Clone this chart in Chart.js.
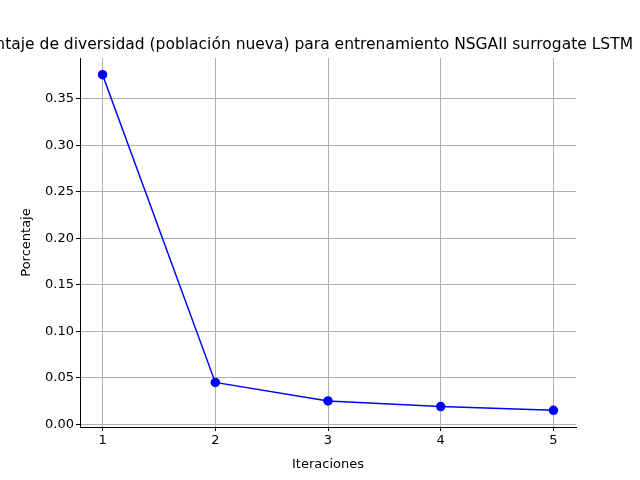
<!DOCTYPE html>
<html><head>
<script src="https://cdn.jsdelivr.net/npm/chart.js@4"></script>
<style>body{margin:0}canvas{display:block}</style>
</head><body>
<div style="width:640px;height:480px"><canvas id="c"></canvas></div>
<script>
const iteraciones = [1, 2, 3, 4, 5];
const porcentaje = [0.376, 0.045, 0.025, 0.019, 0.015];
const yTicks = [0, 0.05, 0.10, 0.15, 0.20, 0.25, 0.30, 0.35];
const titleText = 'Porcentaje de diversidad (población nueva) para entrenamiento NSGAII surrogate LSTM';

const titlePlugin = {
    id: 'mplTitle',
    afterDraw(chart) {
        const ctx = chart.ctx, a = chart.chartArea;
        ctx.save();
        ctx.font = '15.5px "DejaVu Sans"';
        ctx.fillStyle = '#000';
        ctx.textAlign = 'right';
        ctx.textBaseline = 'alphabetic';
        ctx.fillText(titleText, 633, a.top - 9);
        ctx.restore();
    }
};

Chart.defaults.font.family = '"DejaVu Sans"';
Chart.defaults.font.size = 13;
Chart.defaults.color = '#000';

new Chart(document.getElementById('c'), {
    type: 'line',
    data: {
        datasets: [{
            data: iteraciones.map((x, i) => ({x: x, y: porcentaje[i]})),
            borderColor: '#0000ff',
            backgroundColor: '#0000ff',
            borderWidth: 1.5,
            pointRadius: 4,
            pointHoverRadius: 4,
            tension: 0
        }]
    },
    options: {
        responsive: true,
        maintainAspectRatio: false,
        animation: false,
        layout: {padding: {top: 58, right: 64, left: 15, bottom: 0}},
        plugins: {legend: {display: false}, tooltip: {enabled: false}},
        scales: {
            x: {
                type: 'linear', min: 0.8, max: 5.2,
                afterBuildTicks: s => { s.ticks = iteraciones.map(v => ({value: v})); },
                afterFit: s => { s.height = 53; },
                ticks: {callback: v => v, padding: 2},
                grid: {color: '#b0b0b0', tickColor: '#000', tickLength: 4},
                border: {color: '#000'},
                title: {display: true, text: 'Iteraciones', padding: {top: 0, bottom: 8}}
            },
            y: {
                type: 'linear', min: -0.003, max: 0.394,
                afterBuildTicks: s => { s.ticks = yTicks.map(v => ({value: v})); },
                afterFit: s => { s.width = 65; },
                ticks: {callback: v => v.toFixed(2), padding: 2},
                grid: {color: '#b0b0b0', tickColor: '#000', tickLength: 4},
                border: {color: '#000'},
                title: {display: true, text: 'Porcentaje', padding: {bottom: 4}}
            }
        }
    },
    plugins: [titlePlugin]
});
</script>
</body></html>
